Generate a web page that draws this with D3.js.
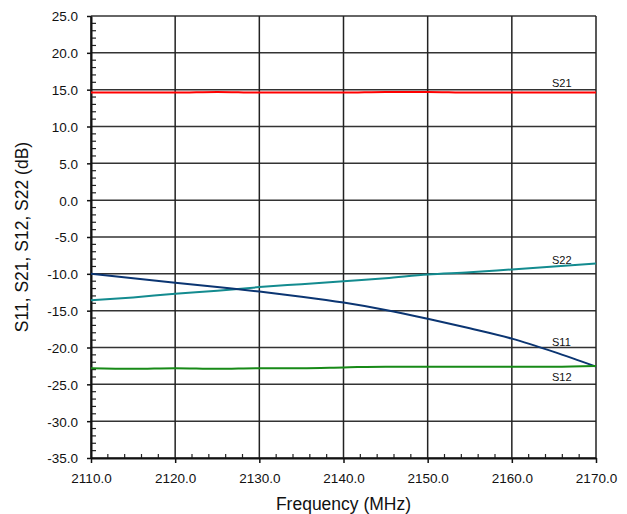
<!DOCTYPE html>
<html>
<head>
<meta charset="utf-8">
<script src="https://cdn.jsdelivr.net/npm/d3@7"></script>
<style>
  body { margin: 0; background: #fff; }
  svg text { font-family: "Liberation Sans", Arial, sans-serif; fill: #111; }
</style>
</head>
<body>
<script>
// frequency points (MHz)
var freq = [2110, 2115, 2120, 2125, 2130, 2135, 2140, 2145, 2150, 2155, 2160, 2165, 2170];
var s11 = [-10.0, -10.6, -11.2, -11.8, -12.4, -13.1, -13.9, -14.9, -16.1, -17.4, -18.8, -20.6, -22.6];
var s22 = [-13.6, -13.2, -12.7, -12.3, -11.8, -11.4, -11.0, -10.6, -10.1, -9.8, -9.4, -9.0, -8.6];
var s21 = [14.6, 14.6, 14.6, 14.7, 14.6, 14.6, 14.6, 14.7, 14.7, 14.6, 14.6, 14.6, 14.6];
var s12 = [-22.8, -22.9, -22.8, -22.9, -22.8, -22.8, -22.7, -22.6, -22.6, -22.6, -22.6, -22.6, -22.5];

var xTicks = [2110, 2120, 2130, 2140, 2150, 2160, 2170];
var yTicks = [25, 20, 15, 10, 5, 0, -5, -10, -15, -20, -25, -30, -35];

var series = [
  {name: "S21", values: s21, color: "#ff0000", lx: 552, ly: 87},
  {name: "S22", values: s22, color: "#138b8f", lx: 552, ly: 264},
  {name: "S11", values: s11, color: "#0b3572", lx: 552, ly: 346},
  {name: "S12", values: s12, color: "#178a17", lx: 552, ly: 381}
];

var width = 627, height = 514;
var margin = {top: 16, right: 31, bottom: 56, left: 91};

var svg = d3.select("body").append("svg")
  .attr("width", width)
  .attr("height", height);

var x = d3.scaleLinear().domain([2110, 2170]).range([margin.left, width - margin.right]);
var y = d3.scaleLinear().domain([-35, 25]).range([height - margin.bottom, margin.top]);

// plain hyphen for negatives, like the original
var fmt = function(d) { return d.toFixed(1); };

// grid
svg.append("g").selectAll("line").data(yTicks).enter().append("line")
  .attr("x1", x(2110)).attr("x2", x(2170))
  .attr("y1", function(d) { return y(d); }).attr("y2", function(d) { return y(d); })
  .attr("stroke", "#333").attr("stroke-width", 1.5);
svg.append("g").selectAll("line").data(xTicks).enter().append("line")
  .attr("y1", y(25)).attr("y2", y(-35))
  .attr("x1", function(d) { return x(d); }).attr("x2", function(d) { return x(d); })
  .attr("stroke", "#222").attr("stroke-width", 1.5);

// minor ticks
var yMinor = d3.range(-35, 25, 1).filter(function(d) { return d % 5 != 0; });
svg.append("g").selectAll("line").data(yMinor).enter().append("line")
  .attr("x1", x(2110)).attr("x2", x(2110) + 5)
  .attr("y1", function(d) { return y(d); }).attr("y2", function(d) { return y(d); })
  .attr("stroke", "#222").attr("stroke-width", 1.2);
var xMinor = d3.range(2110, 2170, 2).filter(function(d) { return d % 10 != 0; });
svg.append("g").selectAll("line").data(xMinor).enter().append("line")
  .attr("y1", y(-35)).attr("y2", y(-35) - 4)
  .attr("x1", function(d) { return x(d); }).attr("x2", function(d) { return x(d); })
  .attr("stroke", "#222").attr("stroke-width", 1.2);

// axes
var xAxis = svg.append("g")
  .attr("transform", "translate(0," + y(-35) + ")")
  .call(d3.axisBottom(x).tickValues(xTicks).tickFormat(fmt).tickSize(5).tickSizeOuter(0));
var yAxis = svg.append("g")
  .attr("transform", "translate(" + x(2110) + ",0)")
  .call(d3.axisLeft(y).tickValues(yTicks).tickFormat(fmt).tickSize(4).tickSizeOuter(0));
[xAxis, yAxis].forEach(function(a) {
  a.select(".domain").attr("stroke", "#111").attr("stroke-width", 2);
  a.selectAll(".tick line").attr("stroke", "#111").attr("stroke-width", 1.5);
  a.selectAll("text").attr("font-size", "13.5px").attr("fill", "#111")
    .style("font-family", "Liberation Sans, Arial, sans-serif");
});
xAxis.selectAll("text").attr("dy", null).attr("y", 25);
yAxis.selectAll("text").attr("x", -13).attr("dy", "0.36em");

// lines
var line = d3.line()
  .x(function(d, i) { return x(freq[i]); })
  .y(function(d) { return y(d); })
  .curve(d3.curveMonotoneX);

series.forEach(function(s) {
  svg.append("path")
    .attr("d", line(s.values))
    .attr("fill", "none")
    .attr("stroke", s.color)
    .attr("stroke-width", 2);
  svg.append("text")
    .attr("x", s.lx).attr("y", s.ly)
    .attr("font-size", "11px")
    .text(s.name);
});

// titles
svg.append("text")
  .attr("x", x(2140)).attr("y", 510)
  .attr("text-anchor", "middle")
  .attr("font-size", "17.5px")
  .text("Frequency (MHz)");
svg.append("text")
  .attr("transform", "translate(28," + y(-5) + ") rotate(-90)")
  .attr("text-anchor", "middle")
  .attr("font-size", "17.5px")
  .text("S11, S21, S12, S22 (dB)");
</script>
</body>
</html>
